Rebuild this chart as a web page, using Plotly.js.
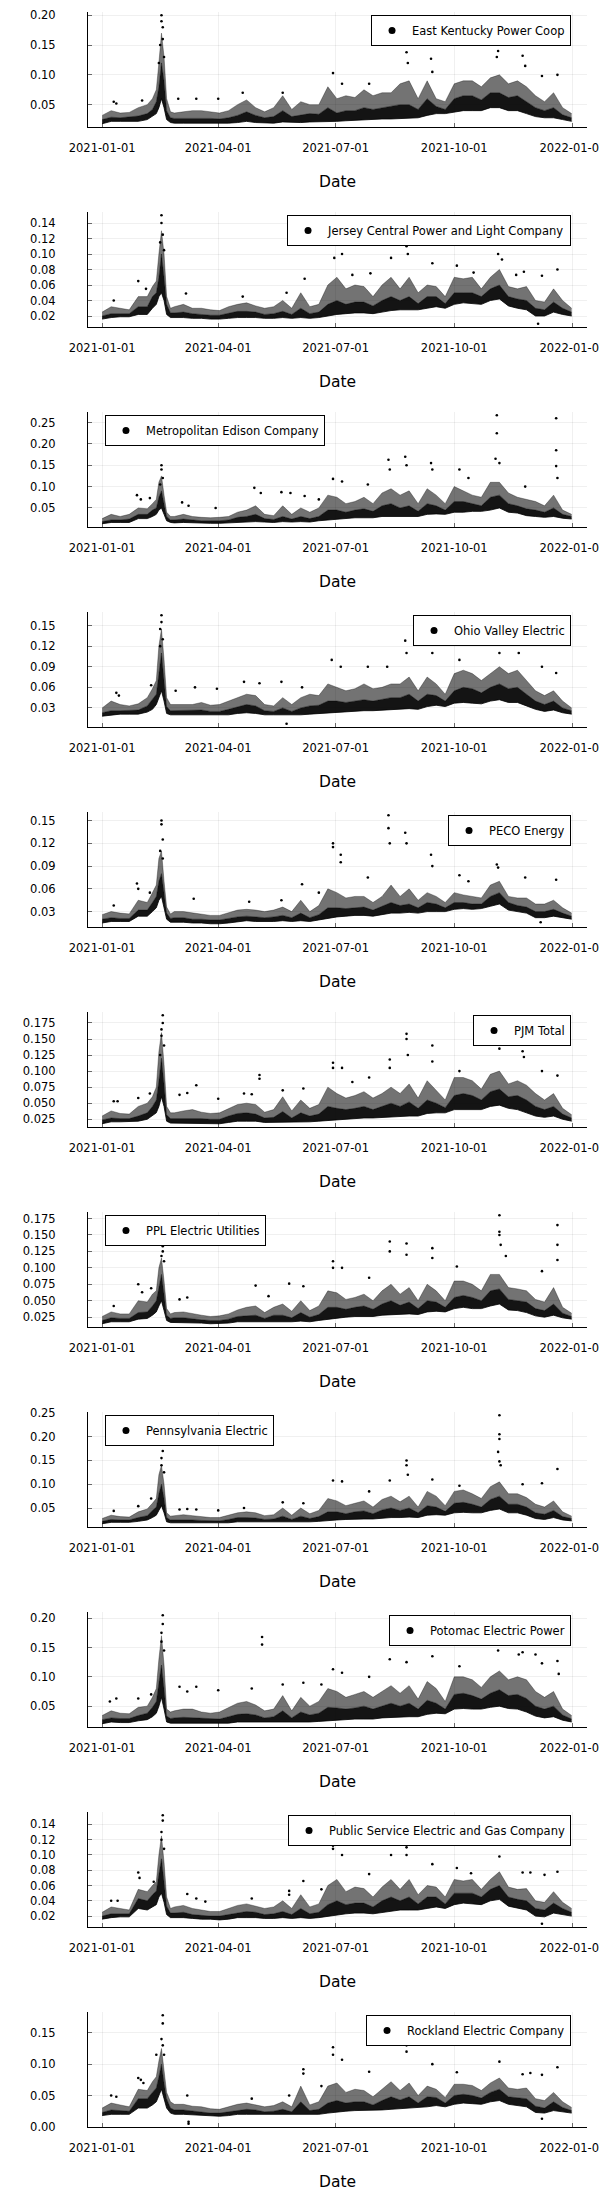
<!DOCTYPE html>
<html>
<head>
<meta charset="utf-8">
<script src="https://cdn.plot.ly/plotly-3.0.1.min.js"></script>
<style>
  html, body { margin: 0; padding: 0; background: #fff; }
  .panel { width: 600px; height: 200px; }
</style>
</head>
<body>
<div id="charts"></div>
<script>
// ---------- shared axis values ----------
const sampleDates = [
  '2021-01-01','2021-01-08','2021-01-15','2021-01-22','2021-01-29',
  '2021-02-05','2021-02-09','2021-02-12','2021-02-14','2021-02-16','2021-02-18','2021-02-20','2021-02-23','2021-02-26',
  '2021-03-05','2021-03-12','2021-03-19','2021-03-26',
  '2021-04-02','2021-04-09','2021-04-16','2021-04-23','2021-04-30',
  '2021-05-07','2021-05-14','2021-05-21','2021-05-28',
  '2021-06-04','2021-06-11','2021-06-18','2021-06-25',
  '2021-07-02','2021-07-09','2021-07-16','2021-07-23','2021-07-30',
  '2021-08-06','2021-08-13','2021-08-20','2021-08-27',
  '2021-09-03','2021-09-10','2021-09-17','2021-09-24',
  '2021-10-01','2021-10-08','2021-10-15','2021-10-22','2021-10-29',
  '2021-11-05','2021-11-12','2021-11-19','2021-11-26',
  '2021-12-03','2021-12-10','2021-12-17','2021-12-24','2021-12-31'
];
const xTickVals = ['2021-01-01','2021-04-01','2021-07-01','2021-10-01','2022-01-01'];
const xTickText = ['2021-01-01','2021-04-01','2021-07-01','2021-10-01','2022-01-01'];
const xRange = ['2020-12-21 01:00','2022-01-11 22:00'];

// ---------- East Kentucky Power Coop ----------
const ekLo  = [.018,.022,.022,.022,.022, .025,.03,.035,.045,.06,.045,.025,.02,.019, .019,.019,.019,.018, .018,.019,.02,.022,.02, .019,.019,.021,.02, .02,.021,.021,.022, .022,.023,.024,.025,.025, .026,.026,.027,.028, .028,.032,.035,.035, .038,.04,.04,.04,.045, .045,.04,.04,.035, .03,.028,.028,.025,.022];
const ekMid = [.025,.029,.028,.029,.031, .035,.042,.055,.08,.12,.09,.04,.028,.027, .027,.027,.028,.027, .026,.028,.032,.038,.032, .028,.03,.04,.03, .032,.035,.034,.045, .036,.04,.04,.045,.042, .045,.048,.05,.05, .042,.06,.047,.042, .06,.065,.065,.058,.07, .07,.062,.065,.055, .045,.04,.045,.033,.028];
const ekHi  = [.032,.04,.036,.037,.045, .05,.06,.075,.12,.17,.13,.06,.038,.036, .038,.04,.04,.038, .036,.04,.05,.058,.045, .038,.045,.065,.042, .055,.05,.05,.08, .06,.065,.062,.075,.065, .07,.07,.085,.09, .06,.09,.06,.055, .085,.09,.09,.08,.095, .1,.085,.09,.08, .065,.055,.07,.045,.035];
const ekSpikeDates = ['2021-01-10','2021-01-12','2021-02-01','2021-02-16','2021-02-16','2021-02-17','2021-02-17','2021-02-15','2021-02-18','2021-02-14','2021-03-01','2021-03-15','2021-04-01','2021-04-20','2021-05-21','2021-06-29','2021-07-06','2021-07-27','2021-08-25','2021-08-26','2021-09-13','2021-09-14','2021-11-04','2021-11-03','2021-11-23','2021-11-25','2021-12-08','2021-12-20'];
const ekSpikeVals  = [.055,.052,.057,.2,.19,.18,.16,.15,.13,.12,.06,.06,.06,.07,.07,.103,.085,.085,.138,.12,.127,.105,.14,.13,.132,.115,.098,.1];
const ekTicks = [0.05,0.10,0.15,0.20];
const ekTickText = ['0.05','0.10','0.15','0.20'];

// ---------- Jersey Central Power and Light Company ----------
const jcLo  = [.016,.018,.019,.019,.022, .022,.03,.035,.045,.05,.04,.022,.018,.018, .018,.017,.017,.016, .016,.017,.018,.018,.018, .017,.017,.018,.017, .018,.017,.018,.02, .022,.023,.024,.024,.023, .025,.027,.028,.028, .028,.03,.032,.03, .035,.037,.036,.035,.04, .042,.033,.03,.028, .02,.02,.025,.022,.02];
const jcMid = [.02,.023,.023,.023,.032, .032,.045,.05,.07,.1,.07,.035,.024,.024, .025,.023,.022,.021, .021,.024,.026,.026,.025, .022,.023,.026,.022, .03,.023,.025,.035, .04,.035,.038,.038,.033, .04,.045,.04,.045, .036,.045,.045,.036, .05,.05,.05,.045,.055, .06,.045,.042,.04, .03,.028,.038,.03,.025];
const jcHi  = [.025,.032,.03,.028,.045, .045,.058,.065,.1,.13,.1,.045,.03,.032, .035,.03,.03,.028, .027,.032,.035,.037,.033, .03,.032,.04,.03, .05,.032,.035,.06, .07,.055,.06,.058,.045, .06,.07,.055,.07, .05,.06,.058,.045, .07,.068,.07,.055,.07, .08,.058,.055,.058, .04,.038,.055,.04,.03];
const jcSpikeDates = ['2021-01-10','2021-01-29','2021-02-04','2021-02-16','2021-02-16','2021-02-17','2021-02-15','2021-02-18','2021-03-07','2021-04-20','2021-05-24','2021-06-07','2021-06-29','2021-06-30','2021-07-06','2021-07-14','2021-07-28','2021-08-12','2021-08-13','2021-08-25','2021-08-26','2021-09-14','2021-10-03','2021-10-16','2021-11-04','2021-11-07','2021-11-18','2021-11-24','2021-12-05','2021-12-08','2021-12-20'];
const jcSpikeVals  = [.04,.065,.055,.15,.14,.125,.115,.105,.049,.045,.05,.068,.112,.095,.1,.073,.075,.113,.095,.11,.1,.088,.085,.076,.1,.093,.073,.077,.01,.072,.08];
const jcTicks = [0.02,0.04,0.06,0.08,0.10,0.12,0.14];
const jcTickText = ['0.02','0.04','0.06','0.08','0.10','0.12','0.14'];

// ---------- Metropolitan Edison Company ----------
const meLo  = [.013,.016,.016,.016,.025, .025,.03,.035,.045,.05,.035,.02,.016,.015, .016,.015,.014,.014, .014,.015,.017,.018,.018, .017,.016,.018,.017, .018,.017,.02,.022, .024,.026,.027,.027,.027, .03,.03,.03,.03, .03,.035,.036,.035, .04,.04,.042,.042,.045, .05,.04,.038,.032, .03,.028,.03,.026,.024];
const meMid = [.018,.022,.022,.024,.035, .035,.045,.05,.075,.09,.06,.03,.022,.022, .024,.022,.02,.02, .02,.022,.028,.03,.035, .025,.023,.03,.024, .03,.025,.03,.045, .045,.04,.045,.048,.042, .055,.06,.05,.055, .042,.06,.055,.045, .065,.065,.06,.055,.075, .08,.06,.055,.048, .045,.04,.05,.035,.03];
const meHi  = [.025,.035,.03,.035,.05, .048,.06,.07,.11,.125,.08,.04,.03,.03, .035,.03,.028,.027, .028,.03,.04,.045,.055, .035,.032,.055,.035, .05,.04,.05,.08, .075,.06,.065,.075,.06, .085,.095,.08,.09, .06,.095,.08,.06, .1,.09,.08,.075,.11, .11,.085,.075,.07, .065,.055,.08,.045,.035];
const meSpikeDates = ['2021-01-28','2021-01-31','2021-02-07','2021-02-16','2021-02-16','2021-02-17','2021-02-15','2021-03-04','2021-03-09','2021-03-30','2021-04-29','2021-05-04','2021-05-20','2021-05-27','2021-06-07','2021-06-18','2021-06-29','2021-07-06','2021-07-26','2021-08-11','2021-08-12','2021-08-24','2021-08-25','2021-09-13','2021-09-14','2021-10-05','2021-10-12','2021-11-03','2021-11-03','2021-11-02','2021-11-05','2021-11-25','2021-12-19','2021-12-19','2021-12-19','2021-12-20'];
const meSpikeVals  = [.08,.07,.073,.15,.14,.12,.105,.063,.055,.05,.097,.085,.087,.085,.078,.07,.118,.112,.105,.163,.14,.17,.15,.155,.14,.14,.12,.267,.225,.165,.155,.1,.26,.185,.148,.12];
const meTicks = [0.05,0.10,0.15,0.20,0.25];
const meTickText = ['0.05','0.10','0.15','0.20','0.25'];

// ---------- Ohio Valley Electric ----------
const ovLo  = [.018,.02,.021,.021,.021, .024,.028,.035,.045,.055,.04,.022,.02,.02, .02,.02,.02,.019, .019,.02,.022,.023,.022, .02,.02,.02,.019, .02,.021,.022,.022, .024,.025,.026,.026,.026, .027,.028,.028,.029, .028,.032,.034,.032, .037,.038,.037,.036,.04, .042,.038,.038,.033, .028,.025,.027,.023,.021];
const ovMid = [.023,.026,.026,.026,.027, .033,.042,.05,.08,.11,.07,.032,.026,.026, .027,.026,.027,.025, .025,.028,.032,.035,.033, .026,.025,.03,.025, .03,.033,.034,.04, .04,.038,.04,.042,.04, .043,.045,.045,.05, .04,.05,.048,.04, .055,.06,.058,.052,.06, .065,.058,.06,.05, .04,.035,.04,.03,.026];
const ovHi  = [.03,.04,.035,.033,.036, .045,.058,.07,.12,.145,.1,.045,.035,.035, .036,.035,.038,.034, .035,.04,.045,.05,.048, .035,.033,.045,.035, .045,.05,.048,.065, .06,.055,.058,.065,.058, .06,.065,.065,.075, .055,.075,.065,.05, .08,.085,.08,.07,.08, .09,.08,.085,.07, .055,.048,.055,.04,.03];
const ovSpikeDates = ['2021-01-12','2021-01-14','2021-02-08','2021-02-16','2021-02-16','2021-02-15','2021-02-17','2021-02-15','2021-02-27','2021-03-14','2021-03-31','2021-04-21','2021-05-03','2021-05-20','2021-05-24','2021-06-05','2021-06-28','2021-07-05','2021-07-26','2021-08-10','2021-08-24','2021-08-25','2021-09-13','2021-09-14','2021-10-05','2021-11-03','2021-11-05','2021-11-23','2021-11-20','2021-12-08','2021-12-19'];
const ovSpikeVals  = [.052,.048,.063,.165,.155,.145,.13,.12,.055,.06,.058,.068,.066,.068,.007,.06,.1,.09,.09,.09,.128,.11,.128,.11,.1,.127,.11,.122,.11,.09,.081];
const ovTicks = [0.03,0.06,0.09,0.12,0.15];
const ovTickText = ['0.03','0.06','0.09','0.12','0.15'];

// ---------- PECO Energy ----------
const pcLo  = [.015,.017,.017,.017,.024, .024,.03,.035,.045,.05,.035,.02,.016,.016, .016,.015,.015,.014, .014,.015,.017,.018,.017, .017,.017,.018,.017, .018,.017,.019,.021, .023,.024,.025,.025,.024, .026,.028,.028,.029, .028,.03,.03,.03, .033,.034,.033,.034,.037, .04,.032,.03,.028, .022,.022,.024,.022,.02];
const pcMid = [.02,.022,.021,.021,.032, .032,.042,.05,.07,.08,.055,.028,.021,.022, .022,.02,.02,.019, .019,.021,.023,.024,.023, .022,.023,.025,.022, .028,.022,.026,.035, .035,.034,.035,.036,.032, .037,.042,.038,.04, .035,.042,.04,.035, .042,.042,.04,.04,.05, .055,.042,.038,.036, .03,.03,.033,.028,.024];
const pcHi  = [.026,.03,.028,.027,.045, .042,.055,.065,.1,.11,.07,.036,.027,.03, .03,.028,.026,.025, .025,.028,.032,.033,.032, .03,.032,.036,.03, .045,.03,.038,.06, .055,.048,.05,.05,.042, .05,.065,.05,.06, .045,.055,.05,.042, .055,.052,.05,.048,.065, .07,.05,.048,.048, .04,.04,.045,.035,.028];
const pcSpikeDates = ['2021-01-10','2021-01-28','2021-01-29','2021-02-07','2021-02-16','2021-02-16','2021-02-17','2021-02-15','2021-02-17','2021-03-13','2021-04-25','2021-05-20','2021-06-05','2021-06-18','2021-06-29','2021-06-29','2021-07-05','2021-07-05','2021-07-26','2021-08-11','2021-08-11','2021-08-12','2021-08-24','2021-08-25','2021-09-13','2021-09-14','2021-10-05','2021-10-12','2021-11-03','2021-11-04','2021-11-25','2021-12-07','2021-12-19'];
const pcSpikeVals  = [.038,.067,.06,.055,.15,.145,.125,.11,.1,.047,.043,.045,.066,.055,.12,.115,.105,.095,.075,.157,.14,.12,.134,.12,.105,.09,.078,.07,.092,.088,.075,.016,.072];
const pcTicks = [0.03,0.06,0.09,0.12,0.15];
const pcTickText = ['0.03','0.06','0.09','0.12','0.15'];

// ---------- PJM Total ----------
const pjLo  = [.018,.021,.021,.021,.022, .025,.03,.035,.045,.06,.045,.022,.019,.019, .019,.019,.019,.018, .018,.02,.022,.022,.022, .02,.02,.021,.02, .021,.021,.022,.023, .025,.026,.027,.027,.027, .028,.029,.03,.03, .03,.034,.035,.035, .04,.04,.04,.04,.045, .047,.042,.04,.035, .03,.028,.03,.025,.022];
const pjMid = [.024,.027,.026,.026,.03, .035,.045,.055,.085,.12,.08,.032,.026,.026, .027,.027,.026,.025, .025,.03,.034,.035,.033, .027,.028,.037,.027, .035,.03,.033,.045, .042,.04,.042,.045,.04, .045,.05,.045,.052, .042,.055,.05,.043, .062,.065,.062,.055,.068, .072,.06,.062,.055, .045,.04,.045,.033,.027];
const pjHi  = [.03,.038,.034,.033,.045, .05,.06,.075,.13,.16,.11,.045,.035,.035, .038,.04,.036,.034, .035,.042,.048,.05,.048, .036,.04,.06,.038, .055,.042,.048,.075, .065,.058,.062,.068,.058, .065,.075,.065,.08, .058,.085,.07,.055, .09,.09,.085,.072,.095, .1,.08,.085,.078, .065,.055,.065,.042,.032];
const pjSpikeDates = ['2021-01-10','2021-01-13','2021-01-29','2021-02-07','2021-02-17','2021-02-17','2021-02-16','2021-02-16','2021-02-18','2021-02-15','2021-03-02','2021-03-08','2021-03-15','2021-04-01','2021-04-21','2021-04-27','2021-05-03','2021-05-03','2021-05-21','2021-06-06','2021-06-29','2021-06-29','2021-07-06','2021-07-14','2021-07-27','2021-08-12','2021-08-12','2021-08-25','2021-08-25','2021-08-26','2021-09-14','2021-09-14','2021-10-05','2021-11-05','2021-11-05','2021-11-23','2021-11-24','2021-12-08','2021-12-20'];
const pjSpikeVals  = [.053,.053,.058,.065,.187,.175,.165,.155,.14,.125,.063,.066,.078,.057,.065,.064,.094,.088,.07,.073,.113,.105,.105,.083,.09,.118,.105,.158,.15,.125,.14,.115,.1,.142,.135,.131,.122,.1,.093];
const pjTicks = [0.025,0.050,0.075,0.100,0.125,0.150,0.175];
const pjTickText = ['0.025','0.050','0.075','0.100','0.125','0.150','0.175'];

// ---------- PPL Electric Utilities ----------
const ppLo  = [.015,.018,.018,.018,.022, .023,.028,.033,.042,.05,.035,.02,.017,.017, .017,.016,.016,.015, .015,.016,.018,.018,.018, .017,.018,.018,.018, .019,.018,.02,.022, .024,.025,.026,.026,.026, .028,.029,.029,.03, .029,.033,.034,.033, .038,.04,.038,.038,.042, .045,.036,.035,.032, .027,.025,.028,.024,.022];
const ppMid = [.02,.024,.023,.023,.032, .033,.042,.05,.07,.09,.06,.028,.023,.024, .024,.022,.021,.02, .02,.022,.026,.027,.028, .023,.028,.028,.024, .032,.025,.029,.04, .04,.037,.04,.042,.037, .045,.05,.043,.048, .038,.05,.048,.04, .055,.058,.055,.05,.065, .068,.052,.05,.048, .038,.035,.045,.031,.026];
const ppHi  = [.026,.033,.03,.03,.05, .048,.06,.065,.1,.115,.08,.038,.03,.032, .033,.03,.028,.026, .027,.03,.036,.04,.042, .032,.04,.045,.034, .05,.035,.042,.065, .062,.052,.055,.06,.05, .065,.075,.06,.07, .05,.075,.065,.05, .08,.08,.075,.065,.09, .09,.07,.068,.065, .052,.048,.07,.04,.031];
const ppSpikeDates = ['2021-01-10','2021-01-29','2021-02-01','2021-02-08','2021-02-17','2021-02-17','2021-02-16','2021-02-18','2021-03-02','2021-03-08','2021-04-30','2021-05-10','2021-05-26','2021-06-06','2021-06-29','2021-06-29','2021-07-06','2021-07-27','2021-08-12','2021-08-12','2021-08-25','2021-08-25','2021-09-14','2021-09-14','2021-10-03','2021-11-05','2021-11-05','2021-11-05','2021-11-06','2021-11-10','2021-12-08','2021-12-20','2021-12-20','2021-12-20'];
const ppSpikeVals  = [.042,.075,.063,.069,.133,.125,.118,.11,.052,.055,.073,.057,.076,.072,.11,.1,.1,.085,.14,.125,.137,.12,.13,.115,.102,.18,.155,.15,.135,.118,.095,.165,.135,.112];
const ppTicks = [0.025,0.050,0.075,0.100,0.125,0.150,0.175];
const ppTickText = ['0.025','0.050','0.075','0.100','0.125','0.150','0.175'];

// ---------- Pennsylvania Electric ----------
const peLo  = [.017,.02,.02,.02,.022, .025,.03,.035,.045,.055,.04,.021,.019,.019, .019,.019,.018,.018, .018,.019,.021,.021,.021, .02,.02,.021,.02, .021,.021,.022,.024, .025,.026,.027,.027,.027, .029,.03,.03,.031, .03,.035,.036,.035, .04,.041,.04,.04,.045, .048,.04,.04,.035, .028,.026,.03,.025,.023];
const peMid = [.022,.026,.025,.025,.03, .034,.045,.052,.08,.1,.07,.03,.025,.025, .026,.025,.024,.023, .023,.026,.03,.03,.029, .026,.027,.033,.026, .033,.028,.032,.042, .042,.038,.042,.044,.038, .046,.05,.045,.05, .04,.055,.052,.043, .06,.062,.058,.052,.068, .075,.058,.058,.052, .04,.037,.045,.032,.028];
const peHi  = [.028,.035,.032,.031,.042, .048,.06,.07,.12,.14,.1,.04,.033,.034, .036,.034,.032,.03, .03,.035,.04,.042,.04, .034,.036,.05,.035, .05,.038,.045,.07, .065,.055,.06,.065,.052, .068,.075,.063,.075, .052,.085,.075,.055, .085,.088,.08,.07,.095, .105,.08,.08,.072, .058,.052,.065,.042,.033];
const peSpikeDates = ['2021-01-10','2021-01-29','2021-02-08','2021-02-17','2021-02-17','2021-02-16','2021-02-16','2021-02-18','2021-03-02','2021-03-08','2021-03-15','2021-04-01','2021-04-21','2021-05-21','2021-06-06','2021-06-29','2021-07-06','2021-07-27','2021-08-12','2021-08-25','2021-08-25','2021-08-26','2021-09-14','2021-10-05','2021-11-05','2021-11-05','2021-11-05','2021-11-04','2021-11-05','2021-11-06','2021-11-23','2021-12-08','2021-12-20'];
const peSpikeVals  = [.044,.054,.07,.185,.17,.155,.14,.125,.047,.048,.047,.045,.05,.062,.06,.108,.106,.085,.108,.15,.14,.12,.11,.097,.245,.205,.195,.168,.148,.14,.1,.102,.132];
const peTicks = [0.05,0.10,0.15,0.20,0.25];
const peTickText = ['0.05','0.10','0.15','0.20','0.25'];

// ---------- Potomac Electric Power ----------
const poLo  = [.02,.023,.022,.022,.025, .027,.032,.038,.05,.065,.045,.023,.021,.021, .021,.021,.021,.02, .02,.021,.023,.023,.023, .022,.022,.023,.022, .023,.023,.024,.025, .027,.028,.028,.028,.028, .03,.031,.031,.032, .032,.036,.038,.037, .045,.046,.045,.045,.048, .05,.046,.045,.04, .033,.03,.032,.026,.023];
const poMid = [.027,.03,.029,.029,.034, .038,.048,.058,.09,.12,.08,.033,.029,.03, .031,.03,.029,.028, .028,.032,.036,.037,.035, .03,.032,.042,.03, .04,.035,.038,.048, .047,.045,.047,.05,.045, .05,.055,.05,.055, .045,.06,.055,.045, .07,.072,.068,.062,.072, .078,.068,.07,.063, .05,.045,.05,.035,.028];
const poHi  = [.034,.042,.038,.037,.048, .05,.065,.08,.13,.17,.12,.045,.04,.042, .045,.045,.04,.038, .04,.048,.055,.058,.052, .042,.045,.068,.042, .065,.05,.058,.08, .075,.065,.07,.075,.065, .075,.085,.072,.085, .062,.092,.08,.058, .1,.1,.095,.082,.1, .11,.095,.1,.095, .075,.065,.075,.045,.034];
const poSpikeDates = ['2021-01-07','2021-01-12','2021-01-29','2021-02-08','2021-02-17','2021-02-17','2021-02-16','2021-02-16','2021-02-18','2021-03-02','2021-03-08','2021-03-15','2021-04-01','2021-04-27','2021-05-05','2021-05-05','2021-05-21','2021-06-06','2021-06-20','2021-06-29','2021-07-06','2021-07-27','2021-08-12','2021-08-25','2021-08-25','2021-09-14','2021-10-05','2021-11-04','2021-11-23','2021-11-20','2021-12-03','2021-12-08','2021-12-20','2021-12-21'];
const poSpikeVals  = [.058,.063,.063,.07,.205,.19,.175,.16,.145,.083,.075,.083,.077,.08,.168,.155,.087,.09,.087,.113,.107,.1,.13,.155,.125,.135,.118,.145,.142,.138,.138,.123,.127,.105];
const poTicks = [0.05,0.10,0.15,0.20];
const poTickText = ['0.05','0.10','0.15','0.20'];

// ---------- Public Service Electric and Gas Company ----------
const psLo  = [.016,.018,.019,.019,.03, .028,.032,.035,.045,.05,.038,.022,.018,.018, .018,.017,.016,.016, .015,.016,.018,.018,.018, .017,.017,.018,.017, .018,.017,.018,.02, .022,.023,.024,.024,.023, .025,.027,.028,.028, .028,.03,.032,.03, .035,.037,.036,.035,.04, .042,.033,.03,.028, .02,.019,.024,.022,.02];
const psMid = [.02,.023,.023,.023,.043, .04,.048,.053,.075,.095,.065,.033,.024,.024, .025,.022,.021,.02, .02,.022,.025,.026,.025, .022,.023,.026,.022, .03,.023,.025,.035, .04,.035,.037,.037,.032, .04,.045,.04,.045, .036,.045,.045,.036, .05,.05,.05,.045,.055, .06,.045,.042,.04, .03,.028,.037,.03,.025];
const psHi  = [.025,.032,.03,.028,.055, .052,.06,.065,.1,.125,.09,.045,.03,.032, .034,.03,.028,.026, .026,.03,.034,.036,.033, .03,.032,.04,.03, .048,.032,.036,.06, .068,.052,.058,.056,.045, .058,.068,.055,.068, .048,.06,.058,.045, .068,.066,.068,.055,.068, .078,.058,.055,.056, .04,.038,.052,.038,.03];
const psSpikeDates = ['2021-01-08','2021-01-13','2021-01-29','2021-01-30','2021-02-10','2021-02-17','2021-02-17','2021-02-16','2021-02-16','2021-02-18','2021-03-08','2021-03-15','2021-03-22','2021-04-27','2021-05-26','2021-05-26','2021-06-06','2021-06-20','2021-06-29','2021-06-29','2021-07-06','2021-07-27','2021-08-12','2021-08-13','2021-08-25','2021-08-25','2021-09-14','2021-10-03','2021-10-14','2021-11-05','2021-11-23','2021-11-29','2021-12-08','2021-12-10','2021-12-20'];
const psSpikeVals  = [.04,.04,.077,.07,.065,.152,.145,.13,.12,.108,.049,.043,.039,.043,.053,.048,.066,.055,.112,.108,.1,.075,.115,.1,.11,.1,.088,.083,.076,.098,.077,.077,.01,.074,.078];
const psTicks = [0.02,0.04,0.06,0.08,0.10,0.12,0.14];
const psTickText = ['0.02','0.04','0.06','0.08','0.10','0.12','0.14'];

// ---------- Rockland Electric Company ----------
const reLo  = [.018,.02,.02,.02,.03, .03,.035,.04,.05,.06,.045,.03,.022,.02, .02,.019,.018,.017, .017,.018,.02,.02,.02, .019,.019,.02,.019, .02,.019,.02,.022, .024,.025,.026,.026,.026, .027,.028,.029,.03, .03,.032,.034,.032, .036,.038,.037,.036,.04, .042,.036,.034,.032, .023,.022,.026,.024,.022];
const reMid = [.023,.027,.026,.025,.045, .045,.055,.062,.08,.1,.07,.045,.03,.027, .027,.025,.024,.022, .022,.024,.027,.028,.027, .024,.025,.028,.024, .04,.026,.028,.038, .042,.038,.04,.04,.035, .042,.048,.043,.048, .038,.048,.047,.038, .05,.052,.05,.046,.055, .06,.048,.046,.045, .033,.03,.04,.031,.026];
const reHi  = [.03,.038,.035,.032,.06, .058,.072,.08,.105,.125,.09,.055,.04,.036, .036,.033,.032,.029, .028,.032,.036,.038,.035, .032,.034,.04,.032, .065,.035,.04,.065, .07,.055,.06,.058,.048, .06,.072,.058,.07, .05,.065,.06,.047, .068,.068,.066,.058,.07, .078,.062,.06,.062, .045,.042,.055,.04,.031];
const reSpikeDates = ['2021-01-08','2021-01-12','2021-01-29','2021-01-31','2021-02-02','2021-02-12','2021-02-17','2021-02-17','2021-02-16','2021-02-17','2021-02-18','2021-03-08','2021-03-09','2021-03-09','2021-04-27','2021-05-26','2021-06-06','2021-06-06','2021-06-20','2021-06-29','2021-06-29','2021-07-06','2021-07-27','2021-08-12','2021-08-25','2021-08-25','2021-09-14','2021-10-03','2021-11-05','2021-11-23','2021-11-29','2021-12-08','2021-12-08','2021-12-20'];
const reSpikeVals  = [.05,.048,.078,.075,.07,.115,.178,.165,.14,.13,.115,.05,.005,.008,.045,.05,.092,.085,.065,.127,.115,.107,.088,.133,.13,.12,.1,.087,.104,.084,.086,.013,.083,.095];
const reTicks = [0.00,0.05,0.10,0.15];
const reTickText = ['0.00','0.05','0.10','0.15'];

// ---------- assemble ----------
const series = [
  {name:'East Kentucky Power Coop', lo:ekLo, mid:ekMid, hi:ekHi, sd:ekSpikeDates, sv:ekSpikeVals, ticks:ekTicks, tickText:ekTickText, side:'right'},
  {name:'Jersey Central Power and Light Company', lo:jcLo, mid:jcMid, hi:jcHi, sd:jcSpikeDates, sv:jcSpikeVals, ticks:jcTicks, tickText:jcTickText, side:'right'},
  {name:'Metropolitan Edison Company', lo:meLo, mid:meMid, hi:meHi, sd:meSpikeDates, sv:meSpikeVals, ticks:meTicks, tickText:meTickText, side:'left'},
  {name:'Ohio Valley Electric', lo:ovLo, mid:ovMid, hi:ovHi, sd:ovSpikeDates, sv:ovSpikeVals, ticks:ovTicks, tickText:ovTickText, side:'right'},
  {name:'PECO Energy', lo:pcLo, mid:pcMid, hi:pcHi, sd:pcSpikeDates, sv:pcSpikeVals, ticks:pcTicks, tickText:pcTickText, side:'right'},
  {name:'PJM Total', lo:pjLo, mid:pjMid, hi:pjHi, sd:pjSpikeDates, sv:pjSpikeVals, ticks:pjTicks, tickText:pjTickText, side:'right'},
  {name:'PPL Electric Utilities', lo:ppLo, mid:ppMid, hi:ppHi, sd:ppSpikeDates, sv:ppSpikeVals, ticks:ppTicks, tickText:ppTickText, side:'left'},
  {name:'Pennsylvania Electric', lo:peLo, mid:peMid, hi:peHi, sd:peSpikeDates, sv:peSpikeVals, ticks:peTicks, tickText:peTickText, side:'left'},
  {name:'Potomac Electric Power', lo:poLo, mid:poMid, hi:poHi, sd:poSpikeDates, sv:poSpikeVals, ticks:poTicks, tickText:poTickText, side:'right'},
  {name:'Public Service Electric and Gas Company', lo:psLo, mid:psMid, hi:psHi, sd:psSpikeDates, sv:psSpikeVals, ticks:psTicks, tickText:psTickText, side:'right'},
  {name:'Rockland Electric Company', lo:reLo, mid:reMid, hi:reHi, sd:reSpikeDates, sv:reSpikeVals, ticks:reTicks, tickText:reTickText, side:'right'}
];

const FONT = 'DejaVu Sans, Verdana, sans-serif';
const container = document.getElementById('charts');

series.forEach(function (s, i) {
  const div = document.createElement('div');
  div.className = 'panel';
  div.id = 'panel' + i;
  container.appendChild(div);

  const ymin = Math.min.apply(null, s.lo.concat(s.sv));
  const ymax = Math.max.apply(null, s.hi.concat(s.sv));
  const pad = 0.03 * (ymax - ymin);

  const traces = [
    {x: sampleDates, y: s.lo, type: 'scatter', mode: 'lines',
     line: {color: '#000', width: 0.8}, showlegend: false, hoverinfo: 'skip'},
    {x: sampleDates, y: s.mid, type: 'scatter', mode: 'lines', fill: 'tonexty',
     fillcolor: 'rgba(0,0,0,0.92)', line: {color: 'rgba(0,0,0,0.8)', width: 0.5},
     showlegend: false, hoverinfo: 'skip'},
    {x: sampleDates, y: s.hi, type: 'scatter', mode: 'lines', fill: 'tonexty',
     fillcolor: 'rgba(0,0,0,0.55)', line: {color: 'rgba(0,0,0,0.55)', width: 0.6},
     showlegend: false, hoverinfo: 'skip'},
    {x: s.sd, y: s.sv, type: 'scatter', mode: 'markers',
     marker: {color: '#000', size: 2.6}, showlegend: false, hoverinfo: 'skip'},
    {x: [null], y: [null], type: 'scatter', mode: 'markers', name: s.name,
     marker: {color: '#000', size: 7}, showlegend: true}
  ];

  const legend = {
    bordercolor: '#000', borderwidth: 1, bgcolor: '#fff',
    font: {family: FONT, size: 11.5, color: '#000'},
    y: 0.974, yanchor: 'top'
  };
  if (s.side === 'right') { legend.x = 0.968; legend.xanchor = 'right'; }
  else { legend.x = 0.034; legend.xanchor = 'left'; }

  const layout = {
    width: 600, height: 200,
    margin: {l: 88, r: 13, t: 12, b: 73},
    paper_bgcolor: '#fff', plot_bgcolor: '#fff',
    showlegend: true,
    legend: legend,
    font: {family: FONT, color: '#000'},
    xaxis: {
      type: 'date', range: xRange,
      tickmode: 'array', tickvals: xTickVals, ticktext: xTickText,
      showgrid: true, gridcolor: 'rgba(0,0,0,0.1)', gridwidth: 0.6,
      zeroline: false, showline: true, linecolor: '#000', linewidth: 1,
      ticks: 'inside', ticklen: 4, tickwidth: 0.8, tickcolor: 'rgba(0,0,0,0.7)',
      tickfont: {family: FONT, size: 11.5, color: '#000'},
      ticklabelstandoff: 10, ticklabeloverflow: 'allow',
      title: {text: 'Date', font: {family: FONT, size: 15.5, color: '#000'}, standoff: 22}
    },
    yaxis: {
      range: [ymin - pad, ymax + pad],
      tickmode: 'array', tickvals: s.ticks, ticktext: s.tickText,
      showgrid: true, gridcolor: 'rgba(0,0,0,0.1)', gridwidth: 0.6,
      zeroline: false, showline: true, linecolor: '#000', linewidth: 1,
      ticks: 'inside', ticklen: 4, tickwidth: 0.8, tickcolor: 'rgba(0,0,0,0.7)',
      tickfont: {family: FONT, size: 11.5, color: '#000'},
      ticklabelstandoff: 29
    }
  };

  Plotly.newPlot(div, traces, layout, {staticPlot: true, displayModeBar: false});
});
</script>
</body>
</html>
